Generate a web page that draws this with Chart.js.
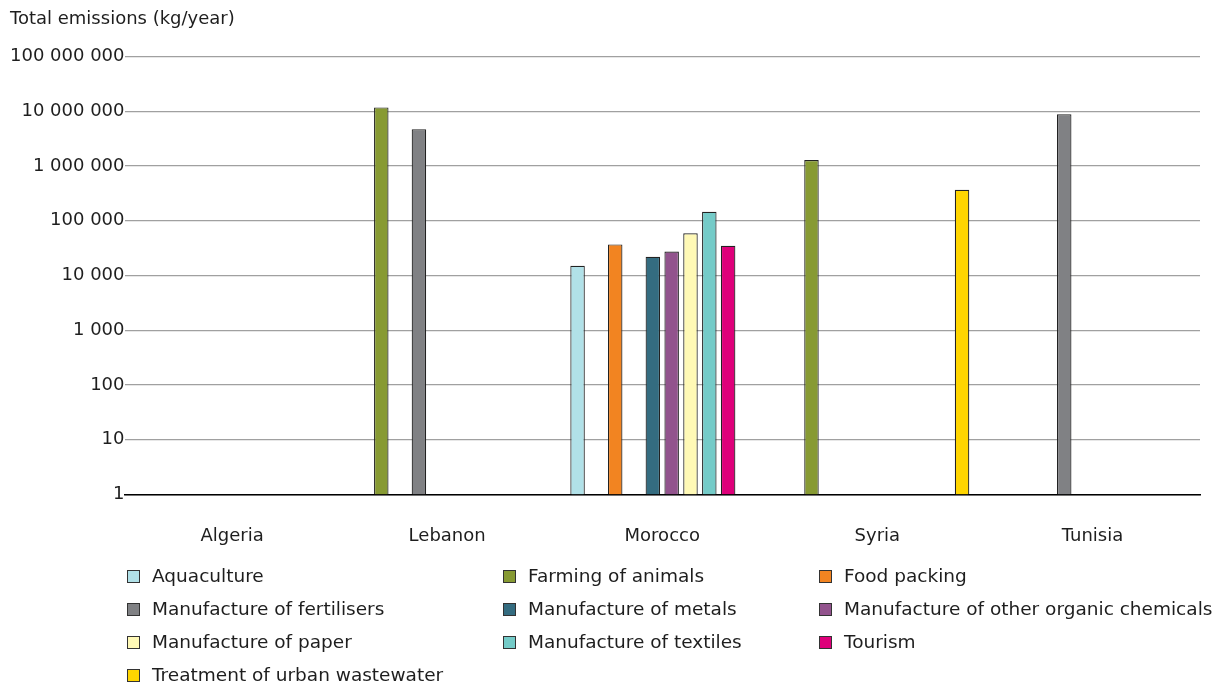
<!DOCTYPE html>
<html>
<head>
<meta charset="utf-8">
<script src="https://cdn.jsdelivr.net/npm/chart.js@4.4.0/dist/chart.umd.min.js"></script>
<style>
  body { margin: 0; background: #fff; font-family: "DejaVu Sans", Verdana, sans-serif; }
  #wrap { position: relative; width: 1218px; height: 691px; }
  #myChart { position: absolute; left: 0; top: 0; }
  #legend { position: absolute; left: 0; top: 560px; width: 1218px; height: 131px; }
  .item { position: absolute; font-size: 18.5px; color: #1e1e1e; white-space: nowrap; line-height: 20px; }
  .box { display: inline-block; width: 11px; height: 11px; border: 1px solid #333; vertical-align: -1px; margin-right: 12px; }
</style>
</head>
<body>
<div id="wrap">
  <canvas id="myChart" width="1218" height="570"></canvas>
  <div id="legend"></div>
</div>
<script>
// countries on the x axis
var countries = ['Algeria', 'Lebanon', 'Morocco', 'Syria', 'Tunisia'];

var sectors = ['Aquaculture', 'Farming of animals', 'Food packing',
  'Manufacture of fertilisers', 'Manufacture of metals', 'Manufacture of other organic chemicals',
  'Manufacture of paper', 'Manufacture of textiles', 'Tourism', 'Treatment of urban wastewater'];

var colours = ['#b1e1e8', '#879a33', '#f28421', '#808184', '#346c80',
  '#92538d', '#fff9b6', '#74cbc8', '#de007a', '#ffd500'];

// values per sector, one per country (kg/year)
var aquaculture = [null, null, 15000, null, null];
var farming = [null, 11800000, null, 1290000, null];
var foodPacking = [null, null, 37000, null, null];
var fertilisers = [null, 4700000, null, null, 8800000];
var metals = [null, null, 22000, null, null];
var otherOrganic = [null, null, 27500, null, null];
var paper = [null, null, 59000, null, null];
var textiles = [null, null, 146000, null, null];
var tourism = [null, null, 35000, null, null];
var wastewater = [null, null, null, 370000, null];

var yTicks = [1, 10, 100, 1000, 10000, 100000, 1000000, 10000000, 100000000];

var series = [aquaculture, farming, foodPacking, fertilisers, metals,
  otherOrganic, paper, textiles, tourism, wastewater];

var font = { family: '"DejaVu Sans", Verdana, sans-serif', size: 18, weight: 'normal' };

var datasets = [];
for (var i = 0; i < sectors.length; i++) {
  datasets.push({
    label: sectors[i],
    data: series[i],
    backgroundColor: colours[i],
    borderColor: '#222',
    borderWidth: 1.2,
    categoryPercentage: 0.875,
    barPercentage: 0.77
  });
}

function spaced(v) {
  return String(v).replace(/\B(?=(\d{3})+(?!\d))/g, ' ');
}

var ctx = document.getElementById('myChart').getContext('2d');
var chart = new Chart(ctx, {
  type: 'bar',
  data: { labels: countries, datasets: datasets },
  options: {
    responsive: false,
    animation: false,
    devicePixelRatio: 1,
    layout: { padding: { left: 10, right: 18, top: 0, bottom: 0 } },
    plugins: {
      legend: { display: false },
      tooltip: { enabled: false },
      title: {
        display: true,
        text: 'Total emissions (kg/year)',
        align: 'start',
        color: '#1e1e1e',
        font: font,
        padding: { top: 9, bottom: 26 }
      }
    },
    scales: {
      x: {
        grid: { display: false },
        border: { color: '#000', width: 1.5 },
        ticks: { color: '#1e1e1e', font: font, padding: 23 }
      },
      y: {
        type: 'logarithmic',
        min: 1,
        max: 100000000,
        afterBuildTicks: function (scale) {
          scale.ticks = yTicks.map(function (v) { return { value: v }; });
        },
        grid: { color: '#a0a0a0', lineWidth: 1.3, drawTicks: false },
        border: { display: false },
        ticks: {
          color: '#1e1e1e',
          font: font,
          padding: 0,
          callback: function (v) { return spaced(v); }
        }
      }
    }
  }
});

// legend laid out in three columns like the original
var colX = [127, 503, 819];
var rowY = [566, 599, 632, 665];
var legend = document.getElementById('legend');
for (var j = 0; j < sectors.length; j++) {
  var d = document.createElement('div');
  d.className = 'item';
  d.style.left = colX[j % 3] + 'px';
  d.style.top = (rowY[Math.floor(j / 3)] - 560) + 'px';
  d.innerHTML = '<span class="box" style="background:' + colours[j] + '"></span>' + sectors[j];
  legend.appendChild(d);
}
</script>
</body>
</html>
